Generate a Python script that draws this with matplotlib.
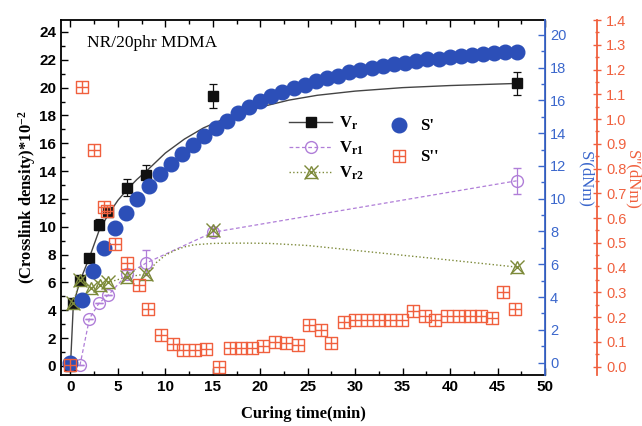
import matplotlib
matplotlib.use('Agg')
import matplotlib.pyplot as plt
from matplotlib.path import Path
from matplotlib.lines import Line2D
from matplotlib.legend_handler import HandlerTuple
from matplotlib.ticker import MultipleLocator

plt.rcParams['mathtext.fontset'] = 'custom'
plt.rcParams['mathtext.rm'] = 'Liberation Serif'
plt.rcParams['mathtext.it'] = 'Liberation Serif:italic'
plt.rcParams['mathtext.bf'] = 'Liberation Serif:bold'

# ---------------- data ----------------
t_vr = [0, 0.3, 1, 2, 3, 4, 6, 8, 15, 47]
vr = [0, 4.5, 6.2, 7.75, 10.15, 11.05, 12.8, 13.75, 19.4, 20.3]
vr_err = [0, 0, 0, 0, 0.4, 0.3, 0.6, 0.7, 0.85, 0.85]

t_vr1 = [1, 2, 3, 4, 6, 8, 15, 47]
vr1 = [0.05, 3.4, 4.5, 5.1, 6.6, 7.4, 9.6, 13.3]
vr1_err = [0, 0, 0, 0, 0.3, 0.9, 0.3, 0.95]

t_vr2 = [0.3, 1, 2.2, 3.1, 4, 6, 8, 15, 47]
vr2 = [4.5, 6.2, 5.6, 5.8, 6.0, 6.4, 6.6, 9.8, 7.1]

fit_t_vr = [0, 0.3, 1, 2, 3, 4, 5, 6, 7, 8, 10, 12, 14, 16, 18, 20, 23, 26, 30, 35, 40, 47]
fit_vr = [0, 4.4, 6.1, 7.8, 9.7, 10.9, 11.9, 12.7, 13.4, 14.0, 15.3, 16.3, 17.1, 17.7,
          18.2, 18.6, 19.1, 19.45, 19.75, 20.0, 20.15, 20.3]

fit_t_vr2 = [0.3, 1, 2.2, 3.1, 4, 6, 8, 9, 10, 11, 12, 13, 15, 17, 19, 21, 25, 30, 35, 40, 47]
fit_vr2 = [4.5, 6.2, 5.6, 5.8, 6.0, 6.4, 6.6, 7.4, 7.95, 8.3, 8.55, 8.7, 8.8, 8.82,
           8.82, 8.8, 8.65, 8.3, 7.95, 7.6, 7.1]

t_s1 = [0, 1.18, 2.35, 3.53, 4.7, 5.88, 7.05, 8.23, 9.4, 10.58, 11.75, 12.93, 14.1,
        15.28, 16.45, 17.63, 18.8, 19.98, 21.15, 22.33, 23.5, 24.68, 25.85, 27.03,
        28.2, 29.38, 30.55, 31.73, 32.9, 34.08, 35.25, 36.43, 37.6, 38.78, 39.95,
        41.13, 42.3, 43.48, 44.65, 45.83, 47.0]
s1 = [0.0, 3.8, 5.6, 7.0, 8.2, 9.1, 10.0, 10.8, 11.5, 12.1, 12.7, 13.3, 13.8, 14.3,
      14.75, 15.2, 15.6, 15.95, 16.25, 16.5, 16.75, 16.95, 17.15, 17.35, 17.5, 17.7,
      17.85, 18.0, 18.1, 18.2, 18.3, 18.4, 18.5, 18.55, 18.62, 18.7, 18.76, 18.82,
      18.88, 18.93, 18.97]

t_s2 = [0.0, 1.2, 2.45, 3.5, 3.9, 4.7, 6.0, 7.2, 8.2, 9.55, 10.8, 11.9, 13.1, 14.3,
        15.6, 16.8, 18.0, 19.1, 20.3, 21.5, 22.7, 23.95, 25.1, 26.4, 27.5, 28.8,
        30.0, 31.2, 32.5, 33.7, 34.9, 36.1, 37.3, 38.4, 39.7, 40.9, 42.1, 43.3,
        44.4, 45.6, 46.8]
s2 = [0.005, 1.13, 0.875, 0.645, 0.63, 0.494, 0.418, 0.33, 0.232, 0.126, 0.09, 0.067,
      0.068, 0.07, 0.0, 0.074, 0.077, 0.077, 0.085, 0.10, 0.095, 0.088, 0.166, 0.148,
      0.094, 0.182, 0.189, 0.189, 0.189, 0.189, 0.19, 0.226, 0.205, 0.19, 0.205,
      0.205, 0.205, 0.205, 0.195, 0.30, 0.232]

# ---------------- style ----------------
SERIF = 'Liberation Serif'
SANS = 'Liberation Sans'
BLACK = '#111111'
PURPLE = '#b07ed8'
OLIVE = '#7d8a3a'
BLUE_PT = '#2c4fb8'
BLUE_AX = '#3b67cc'
RED = '#f0603e'

grid_marker = Path([(-1, -1), (1, -1), (1, 1), (-1, 1), (-1, -1),
                    (0, -1), (0, 1), (-1, 0), (1, 0)],
                   [Path.MOVETO, Path.LINETO, Path.LINETO, Path.LINETO, Path.CLOSEPOLY,
                    Path.MOVETO, Path.LINETO, Path.MOVETO, Path.LINETO])

fig = plt.figure(figsize=(6.42, 4.26), dpi=100)
ax = fig.add_axes([0.095, 0.12, 0.754, 0.833])
ax2 = ax.twinx()
ax3 = ax.twinx()

# left axis series
ax.plot(fit_t_vr, fit_vr, '-', color='#444444', lw=1.0, zorder=2)
ax.errorbar(t_vr, vr, yerr=vr_err, fmt='s', ms=7.5, color=BLACK, mec=BLACK,
            ecolor=BLACK, elinewidth=0.9, capsize=3, capthick=0.9, zorder=3)
ax.errorbar(t_vr1, vr1, yerr=vr1_err, fmt='o', ms=8.5, mfc='none', mec=PURPLE,
            mew=1.0, ecolor=PURPLE, elinewidth=0.9, capsize=3, capthick=0.9, zorder=3)
ax.plot(t_vr1, vr1, '--', color=PURPLE, lw=0.9, dashes=(3, 2), zorder=2)
ax.plot(fit_t_vr2, fit_vr2, ':', color=OLIVE, lw=1.0, zorder=2)
ax.plot(t_vr2, vr2, '^', ms=9, mfc='none', mec=OLIVE, mew=1.0, zorder=4)
ax.plot(t_vr2, vr2, 'x', ms=10, mec=OLIVE, mew=1.0, zorder=4)

ax.set_xlim(-1, 50)
ax.set_ylim(-0.65, 24.86)
ax.xaxis.set_major_locator(MultipleLocator(5))
ax.xaxis.set_minor_locator(MultipleLocator(2.5))
ax.yaxis.set_major_locator(MultipleLocator(2))
ax.yaxis.set_minor_locator(MultipleLocator(1))
ax.tick_params(axis='both', which='both', direction='in', top=True, right=False,
               width=1.0, colors='black')
ax.tick_params(axis='both', which='major', length=5)
ax.tick_params(axis='both', which='minor', length=3)
for lab in ax.get_xticklabels() + ax.get_yticklabels():
    lab.set_fontfamily(SANS)
    lab.set_fontweight('bold')
    lab.set_fontsize(11)
ax.set_xlabel('Curing time(min)', fontfamily=SERIF, fontweight='bold', fontsize=12,
              labelpad=9)
ax.set_ylabel(r'(Crosslink density)*10$^{\mathbf{-2}}$', fontfamily=SERIF,
              fontweight='bold', fontsize=12, labelpad=1)
for s in ['left', 'bottom', 'top']:
    ax.spines[s].set_linewidth(1.3)
ax.text(0.054, 0.936, 'NR/20phr MDMA', transform=ax.transAxes, fontfamily=SERIF,
        fontsize=12.5, va='center', ha='left')

# blue axis S'
ax2.plot(t_s1, s1, 'o', ms=10.5, color=BLUE_PT, mec=BLUE_PT, zorder=3)
ax2.set_ylim(-0.75, 20.9)
ax2.yaxis.set_major_locator(MultipleLocator(2))
ax2.yaxis.set_minor_locator(MultipleLocator(1))
ax2.tick_params(axis='y', which='both', direction='in', colors=BLUE_AX, width=1.0)
ax2.tick_params(axis='y', which='major', length=5)
ax2.tick_params(axis='y', which='minor', length=3)
for lab in ax2.get_yticklabels():
    lab.set_fontfamily(SANS)
    lab.set_fontsize(10.5)
ax2.spines['right'].set_color(BLUE_AX)
ax2.spines['right'].set_linewidth(1.3)
ax2.set_ylabel("S'(dNm)", fontfamily=SERIF, fontsize=12, color=BLUE_AX,
               rotation=-90, labelpad=-4, va='bottom')
ax2.yaxis.set_label_coords(1.068, 0.55)
for s in ['left', 'bottom', 'top']:
    ax2.spines[s].set_visible(False)

# red axis S''
ax3.plot(t_s2, s2, linestyle='none', marker=grid_marker, ms=8.5, mfc='none',
         mec=RED, mew=1.0, zorder=5)
ax3.set_ylim(-0.0335, 1.4)
ax3.spines['right'].set_position(('outward', 37.4))
ax3.spines['right'].set_color(RED)
ax3.spines['right'].set_linewidth(1.3)
for s in ['left', 'bottom', 'top']:
    ax3.spines[s].set_visible(False)
ax3.yaxis.set_major_locator(MultipleLocator(0.1))
ax3.yaxis.set_minor_locator(MultipleLocator(0.05))
ax3.tick_params(axis='y', which='both', direction='inout', colors=RED, width=1.0)
ax3.tick_params(axis='y', which='major', length=6)
ax3.tick_params(axis='y', which='minor', length=3)
ax3.yaxis.set_major_formatter(matplotlib.ticker.FormatStrFormatter('%.1f'))
for lab in ax3.get_yticklabels():
    lab.set_fontfamily(SANS)
    lab.set_fontsize(10.5)
ax3.set_ylabel("S''(dNm)", fontfamily=SERIF, fontsize=12, color=RED, rotation=-90,
               va='bottom')
ax3.yaxis.set_label_coords(1.165, 0.55)

# legends
h_vr = Line2D([], [], color='#444444', lw=1.0, marker='s', ms=7.5, mfc=BLACK, mec=BLACK)
h_vr1 = Line2D([], [], color=PURPLE, lw=0.9, ls='--', dashes=(3, 2), marker='o', ms=8.5,
               mfc='none', mec=PURPLE)
h_vr2a = Line2D([], [], color=OLIVE, lw=1.0, ls=':', marker='^', ms=9, mfc='none', mec=OLIVE)
h_vr2b = Line2D([], [], color=OLIVE, lw=0, marker='x', ms=10, mec=OLIVE)
leg1 = ax3.legend([h_vr, h_vr1, (h_vr2a, h_vr2b)],
                  [r'$\mathbf{V_r}$', r'$\mathbf{V_{r1}}$', r'$\mathbf{V_{r2}}$'],
                  handler_map={tuple: HandlerTuple(ndivide=1, pad=0)},
                  loc='upper left', bbox_to_anchor=(0.44, 0.775), frameon=False,
                  prop={'family': SERIF, 'weight': 'bold', 'size': 12},
                  handlelength=2.6, labelspacing=0.45, handletextpad=0.4)
ax3.add_artist(leg1)
h_s1 = Line2D([], [], lw=0, marker='o', ms=10.5, color=BLUE_PT)
h_s2 = Line2D([], [], lw=0, marker=grid_marker, ms=8.5, mfc='none', mec=RED, mew=1.0)
ax3.legend([h_s1, h_s2], ["S'", "S''"], loc='upper left', bbox_to_anchor=(0.642, 0.765),
           frameon=False, prop={'family': SERIF, 'weight': 'bold', 'size': 12},
           handlelength=1.5, labelspacing=0.9, handletextpad=0.5)

fig.savefig('out.png', dpi=100)
